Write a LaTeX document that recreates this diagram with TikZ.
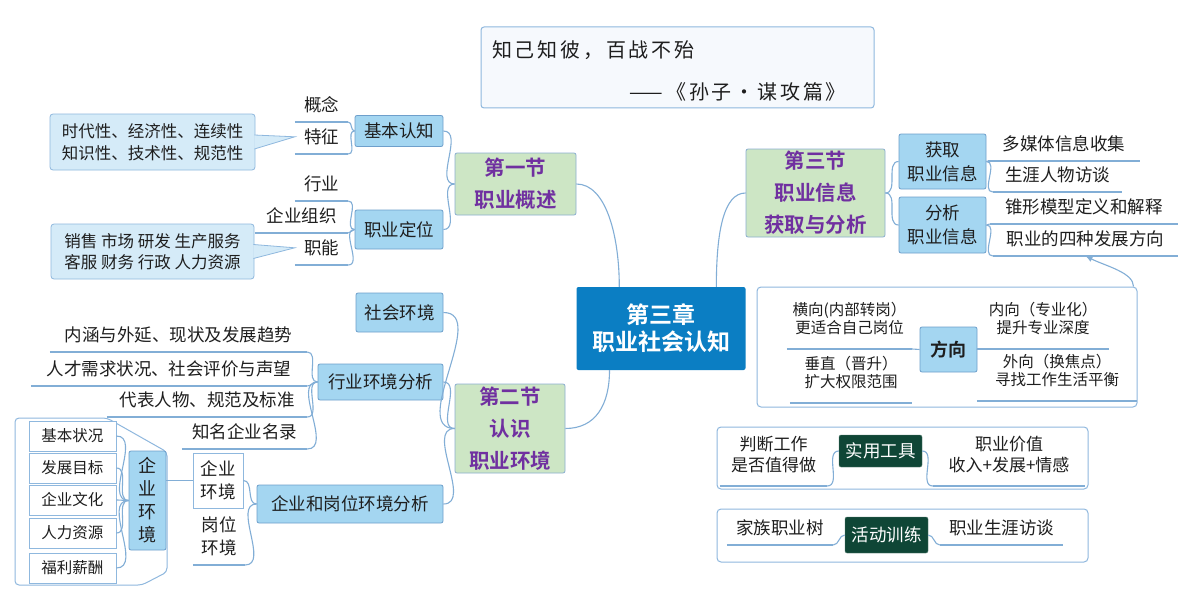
\documentclass[tikz,border=0pt]{standalone}
\usepackage{fontspec}
\setmainfont{Noto Sans CJK SC}[BoldFont={Noto Sans CJK SC Bold}]
\newfontfamily\quotefont{Noto Sans CJK SC}[LetterSpace=14]
\usetikzlibrary{arrows.meta,calc}

\definecolor{linkc}{HTML}{82AED6}
\definecolor{topicfill}{HTML}{A4D6F1}
\definecolor{topicline}{HTML}{6E9FCB}
\definecolor{secfill}{HTML}{CDE6C5}
\definecolor{secline}{HTML}{8BAFD0}
\definecolor{chfill}{HTML}{0B7EC3}
\definecolor{toolfill}{HTML}{0F4636}
\definecolor{purp}{HTML}{7030A0}
\definecolor{callfill}{HTML}{D5EBF8}
\definecolor{wrapline}{HTML}{8FB8DE}
\definecolor{quotefill}{HTML}{F6F9FD}
\definecolor{inktext}{HTML}{1E1E1E}

\newcommand\fsz[2]{\fontsize{#1}{#2}\selectfont}

\tikzset{
  link/.style={draw=linkc, line width=1.1pt},
  topic/.style={draw=topicline, fill=topicfill, line width=0.8pt, rounded corners=2pt,
    inner sep=0pt, align=center, text=inktext, font=\fsz{17.5}{24}},
  section/.style={draw=secline, fill=secfill, line width=0.8pt, rounded corners=2pt,
    inner sep=0pt, align=center, text=purp, font=\bfseries\fsz{20.5}{32}},
  chapter/.style={fill=chfill, rounded corners=2pt, inner sep=0pt, align=center,
    text=white, font=\bfseries\fsz{23}{27}},
  tool/.style={fill=toolfill, draw=toolfill!70!white, rounded corners=2pt, inner sep=0pt,
    text=white, font=\fsz{17.5}{20}},
  leaf/.style={inner sep=0pt, anchor=south, minimum height=34pt, align=center,
    text=inktext, font=\fsz{17.5}{21}},
  smallleaf/.style={leaf, minimum height=60pt, font=\fsz{15.5}{18}},
  callout/.style={draw=wrapline, fill=callfill, line width=0.8pt, rounded corners=3pt,
    inner sep=0pt, align=center, text=inktext, font=\fsz{16.5}{21.5}},
  itembox/.style={draw=wrapline, fill=white, line width=0.8pt, inner sep=0pt,
    align=center, text=inktext, font=\fsz{15.5}{18}},
  wrap/.style={draw=wrapline, fill=white, line width=1pt, rounded corners=4pt, inner sep=0pt},
}

\begin{document}
\begin{tikzpicture}[x=1pt, y=-1pt]
  \path[use as bounding box, fill=white] (0,0) rectangle (1187,602);

  % quote
  \node[wrap, fill=quotefill, rounded corners=3pt, minimum width=393, minimum height=81] (qt) at (677.5,67.5) {};
  \node[anchor=west, inner sep=0pt, font=\quotefont\fsz{20}{24}, text=inktext] (qta) at (492,50) {知己知彼，百战不殆};
  \node[anchor=east, inner sep=0pt, font=\quotefont\fsz{20}{24}, text=inktext] (qtb) at (846,92) {——《孙子•谋攻篇》};

  % frames
  \node[wrap, minimum width=380, minimum height=120] (fxw) at (947,347) {};
  \node[wrap, minimum width=371, minimum height=62] (syw) at (902.5,458) {};
  \node[wrap, minimum width=371, minimum height=53] (hdw) at (902.5,535.5) {};
  \draw[wrapline, line width=1pt, fill=white, rounded corners=4pt]
    (15,418) -- (107,418) -- (167,452) -- (167,572) -- (142,585) -- (15,585) -- cycle;

  % main topics
  \node[chapter, minimum width=169, minimum height=83] (ch) at (661,328.5) {第三章\\职业社会认知};
  \node[section, minimum width=121, minimum height=62] (sec1) at (515.5,184) {第一节\\职业概述};
  \node[section, minimum width=110, minimum height=89] (sec2) at (510,428.5) {第二节\\认识\\职业环境};
  \node[section, minimum width=139, minimum height=88] (sec3) at (815.5,193) {第三节\\职业信息\\获取与分析};

  % section 1
  \node[topic, minimum width=88, minimum height=31] (jbrz) at (399,131) {基本认知};
  \node[topic, minimum width=88, minimum height=39] (zydw) at (399,229.5) {职业定位};
  \node[leaf, minimum width=53] (gn) at (321.5,122) {概念};
  \node[leaf, minimum width=53] (tz) at (321.5,154) {特征};
  \node[leaf, minimum width=53] (hy) at (321.5,201) {行业};
  \node[leaf, minimum width=93] (qyzz) at (301.5,233) {企业组织};
  \node[leaf, minimum width=53] (zn) at (321.5,265) {职能};
  \node[callout, minimum width=205, minimum height=56] (sxx) at (152.5,142) {时代性、经济性、连续性\\知识性、技术性、规范性};
  \node[callout, minimum width=203, minimum height=55] (xsh) at (152.5,251.5) {销售 市场 研发 生产服务\\客服 财务 行政 人力资源};
  \draw[wrapline, line width=0.8pt, fill=callfill] ($(sxx.east)+(-1,-7)$) -- (tz.west) -- ($(sxx.east)+(-1,7)$);
  \draw[wrapline, line width=0.8pt, fill=callfill] ($(xsh.east)+(-1,-7)$) -- (zn.west) -- ($(xsh.east)+(-1,7)$);

  % section 2
  \node[topic, minimum width=87, minimum height=39] (shhj) at (399.5,312.5) {社会环境};
  \node[topic, minimum width=125, minimum height=36] (hyhj) at (380.5,382) {行业环境分析};
  \node[topic, minimum width=186, minimum height=38] (qygw) at (350,504) {企业和岗位环境分析};
  \node[leaf, minimum width=257] (nh) at (178.5,352) {内涵与外延、现状及发展趋势};
  \node[leaf, minimum width=276] (rc) at (169,386) {人才需求状况、社会评价与声望};
  \node[leaf, minimum width=200] (db) at (207,417) {代表人物、规范及标准};
  \node[leaf, minimum width=125] (zm) at (244.5,449) {知名企业名录};
  \node[itembox, minimum width=50, minimum height=55, font=\fsz{17.5}{23}] (qyhj) at (218,480.5) {企业\\环境};
  \node[leaf, minimum width=52, minimum height=57, font=\fsz{17.5}{23}] (gwhj) at (219,565) {岗位\\环境};
  \node[topic, minimum width=37, minimum height=99, font=\fsz{18}{23}] (qyhjv) at (147.5,500.5) {企\\业\\环\\境};
  \foreach \y/\t [count=\i] in {436/基本状况, 468/发展目标, 500/企业文化, 533/人力资源, 568/福利薪酬}
    \node[itembox, minimum width=87, minimum height=30] (item\i) at (72.5,\y) {\t};

  % section 3
  \node[topic, minimum width=87, minimum height=55] (hq) at (942.5,161.5) {获取\\职业信息};
  \node[topic, minimum width=87, minimum height=56] (fx) at (942.5,225) {分析\\职业信息};
  \node[leaf, minimum width=152] (dmt) at (1064,161) {多媒体信息收集};
  \node[leaf, minimum width=129] (syrw) at (1057.5,192) {生涯人物访谈};
  \node[leaf, minimum width=188] (zxmx) at (1084,224) {锥形模型定义和解释};
  \node[leaf, minimum width=185] (zyfx) at (1085.5,256) {职业的四种发展方向};

  % directions
  \node[topic, minimum width=57, minimum height=45, font=\bfseries\fsz{18}{20}] (fxn) at (948.5,349.5) {方向};
  \node[smallleaf, minimum width=125] (hx) at (849.5,349) {横向(内部转岗）\\更适合自己岗位};
  \node[smallleaf, minimum width=122] (cz) at (851,403) {垂直（晋升）\\扩大权限范围};
  \node[smallleaf, minimum width=132] (nx) at (1043,349) {内向（专业化）\\提升专业深度};
  \node[smallleaf, minimum width=160] (wx) at (1057,401) {外向（换焦点）\\寻找工作生活平衡};

  % tools
  \node[tool, minimum width=83, minimum height=32] (syg) at (880.5,451) {实用工具};
  \node[leaf, minimum width=107, minimum height=63, font=\fsz{17}{21}] (pd) at (773.5,486) {判断工作\\是否值得做};
  \node[leaf, minimum width=152, minimum height=63, font=\fsz{17}{21}] (jz) at (1009,486) {职业价值\\收入+发展+情感};
  \node[tool, minimum width=83, minimum height=36] (hd) at (886.5,535) {活动训练};
  \node[leaf, minimum width=106] (jzs) at (780,545) {家族职业树};
  \node[leaf, minimum width=123] (fw) at (1001.5,545) {职业生涯访谈};

  \foreach \n in {gn,tz,hy,qyzz,zn,nh,rc,db,zm,gwhj,dmt,syrw,zxmx,zyfx,hx,cz,nx,wx,pd,jz,jzs,fw}
    \draw[link] (\n.south west) -- (\n.south east);

  % connectors
  \draw[link] (sec1.east) .. controls +(30,0) and +(0,-50) .. (ch.135);
  \draw[link] (ch.37) .. controls +(0,-55) and +(-22,0) .. (sec3.west);
  \draw[link] (ch.219) .. controls +(0,35) and +(30,0) .. (sec2.east);

  \foreach \n in {jbrz,zydw} \draw[link] (sec1.west) to[out=180,in=0] (\n.east);
  \foreach \n in {gn,tz} \draw[link] (jbrz.west) to[out=180,in=0] (\n.south east);
  \foreach \n in {hy,qyzz,zn} \draw[link] (zydw.west) to[out=180,in=0] (\n.south east);

  \foreach \n in {shhj,hyhj,qygw} \draw[link] (sec2.west) to[out=180,in=0] (\n.east);
  \foreach \n in {nh,rc,db,zm} \draw[link] (hyhj.west) to[out=180,in=0] (\n.south east);
  \draw[link] (qygw.west) to[out=180,in=0] (qyhj.east);
  \draw[link] (qygw.west) to[out=180,in=0] (gwhj.south east);
  \draw[link] (qyhj.west -| qyhjv.east) -- (qyhj.west);
  \foreach \i in {1,...,5} \draw[link] (qyhjv.west) to[out=180,in=0] (item\i.east);

  \foreach \n in {hq,fx} \draw[link] (sec3.east) to[out=0,in=180] (\n.west);
  \foreach \n in {dmt,syrw} \draw[link] (hq.east) to[out=0,in=180] (\n.south west);
  \foreach \n in {zxmx,zyfx} \draw[link] (fx.east) to[out=0,in=180] (\n.south west);

  \draw[link] (fxn.west) -- (hx.south east);
  \draw[link] (fxn.east) -- (nx.south west);
  \draw[link, -{Latex[length=7pt, width=6pt]}] ($(fxw.north east)+(-4,0)$) .. controls +(0,-14) and +(20,10) .. (zyfx.south);

  \draw[link] (syg.west) to[out=180,in=0] (pd.south east);
  \draw[link] (syg.east) to[out=0,in=180] (jz.south west);
  \draw[link] (hd.west) to[out=180,in=0] (jzs.south east);
  \draw[link] (hd.east) to[out=0,in=180] (fw.south west);
\end{tikzpicture}
\end{document}
